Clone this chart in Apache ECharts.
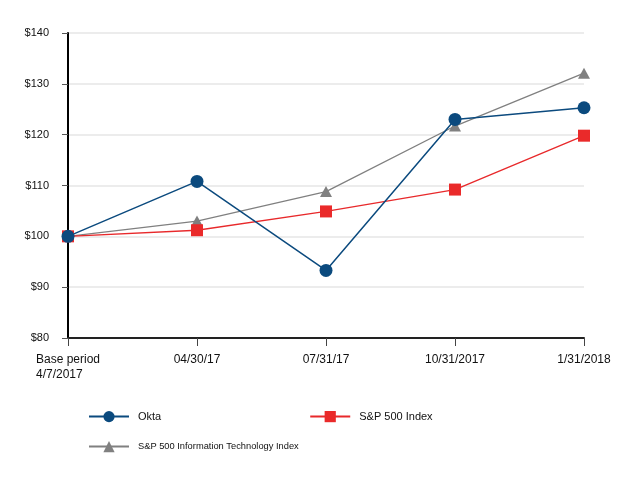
<!DOCTYPE html>
<html><head><meta charset="utf-8">
<script src="https://cdn.jsdelivr.net/npm/echarts@6/dist/echarts.min.js"></script>
<style>html,body{margin:0;padding:0;background:#fff}#c{width:618px;height:480px}</style>
</head><body><div id="c"></div>
<script>
const categories = ['Base period\n4/7/2017', '04/30/17', '07/31/17', '10/31/2017', '1/31/2018'];
const okta = [100, 110.8, 93.3, 123.0, 125.3];
const sp500 = [100, 101.2, 104.9, 109.2, 119.8];
const spIT = [100, 103.0, 108.8, 121.7, 132.1];
const yTicks = [80, 90, 100, 110, 120, 130, 140];

const font = '"Liberation Sans", Arial, sans-serif';

const chart = echarts.init(document.getElementById('c'));
chart.setOption({
  animation: false,
  textStyle: { fontFamily: font },
  grid: { left: 68, right: 34, top: 33, bottom: 142, outerBoundsMode: 'none', containLabel: false },
  xAxis: {
    type: 'category',
    boundaryGap: false,
    data: categories,
    axisLine: { lineStyle: { color: '#222', width: 2 } },
    axisTick: { show: true, alignWithLabel: true, length: 8, lineStyle: { color: '#444' } },
    axisLabel: {
      color: '#111', fontSize: 12, margin: 14, interval: 0, lineHeight: 15, hideOverlap: false,
      formatter: v => v.indexOf('\n') >= 0 ? v.split('\n').map(s => '{a|' + s + '}').join('\n') : v,
      rich: { a: { width: 64, align: 'left', fontSize: 12, color: '#111', lineHeight: 15 } }
    },
    splitLine: { show: false }
  },
  yAxis: {
    type: 'value', min: 80, max: 140, interval: 10,
    axisLine: { show: true, lineStyle: { color: '#000', width: 2 } },
    axisTick: { show: true, length: 6, lineStyle: { color: '#555' } },
    axisLabel: { color: '#111', fontSize: 11, margin: 19, formatter: v => yTicks.includes(v) ? '$' + v : '' },
    splitLine: { lineStyle: { color: '#e6e6e6', width: 1.5 } }
  },
  legend: [
    {
      data: ['Okta', 'S&P 500 Index'], left: 83, top: 406, itemWidth: 40, itemHeight: 14, itemGap: 148,
      textStyle: { fontSize: 11, color: '#111', fontFamily: font, padding: [0, 0, 0, 4] }
    },
    {
      data: ['S&P 500 Information Technology Index'], left: 83, top: 436, itemWidth: 40, itemHeight: 14,
      textStyle: { fontSize: 9.3, color: '#111', fontFamily: font, padding: [0, 0, 0, 4] }
    }
  ],
  series: [
    {
      name: 'S&P 500 Information Technology Index', type: 'line', data: spIT,
      symbol: 'triangle', symbolSize: [12, 11],
      lineStyle: { color: '#808080', width: 1.3 }, itemStyle: { color: '#808080' }
    },
    {
      name: 'S&P 500 Index', type: 'line', data: sp500,
      symbol: 'rect', symbolSize: 12,
      lineStyle: { color: '#e8292b', width: 1.3 }, itemStyle: { color: '#ea2a2a' }
    },
    {
      name: 'Okta', type: 'line', data: okta,
      symbol: 'circle', symbolSize: 13,
      lineStyle: { color: '#0b4a7e', width: 1.5 }, itemStyle: { color: '#0b4a7e' }
    }
  ]
});
</script></body></html>
